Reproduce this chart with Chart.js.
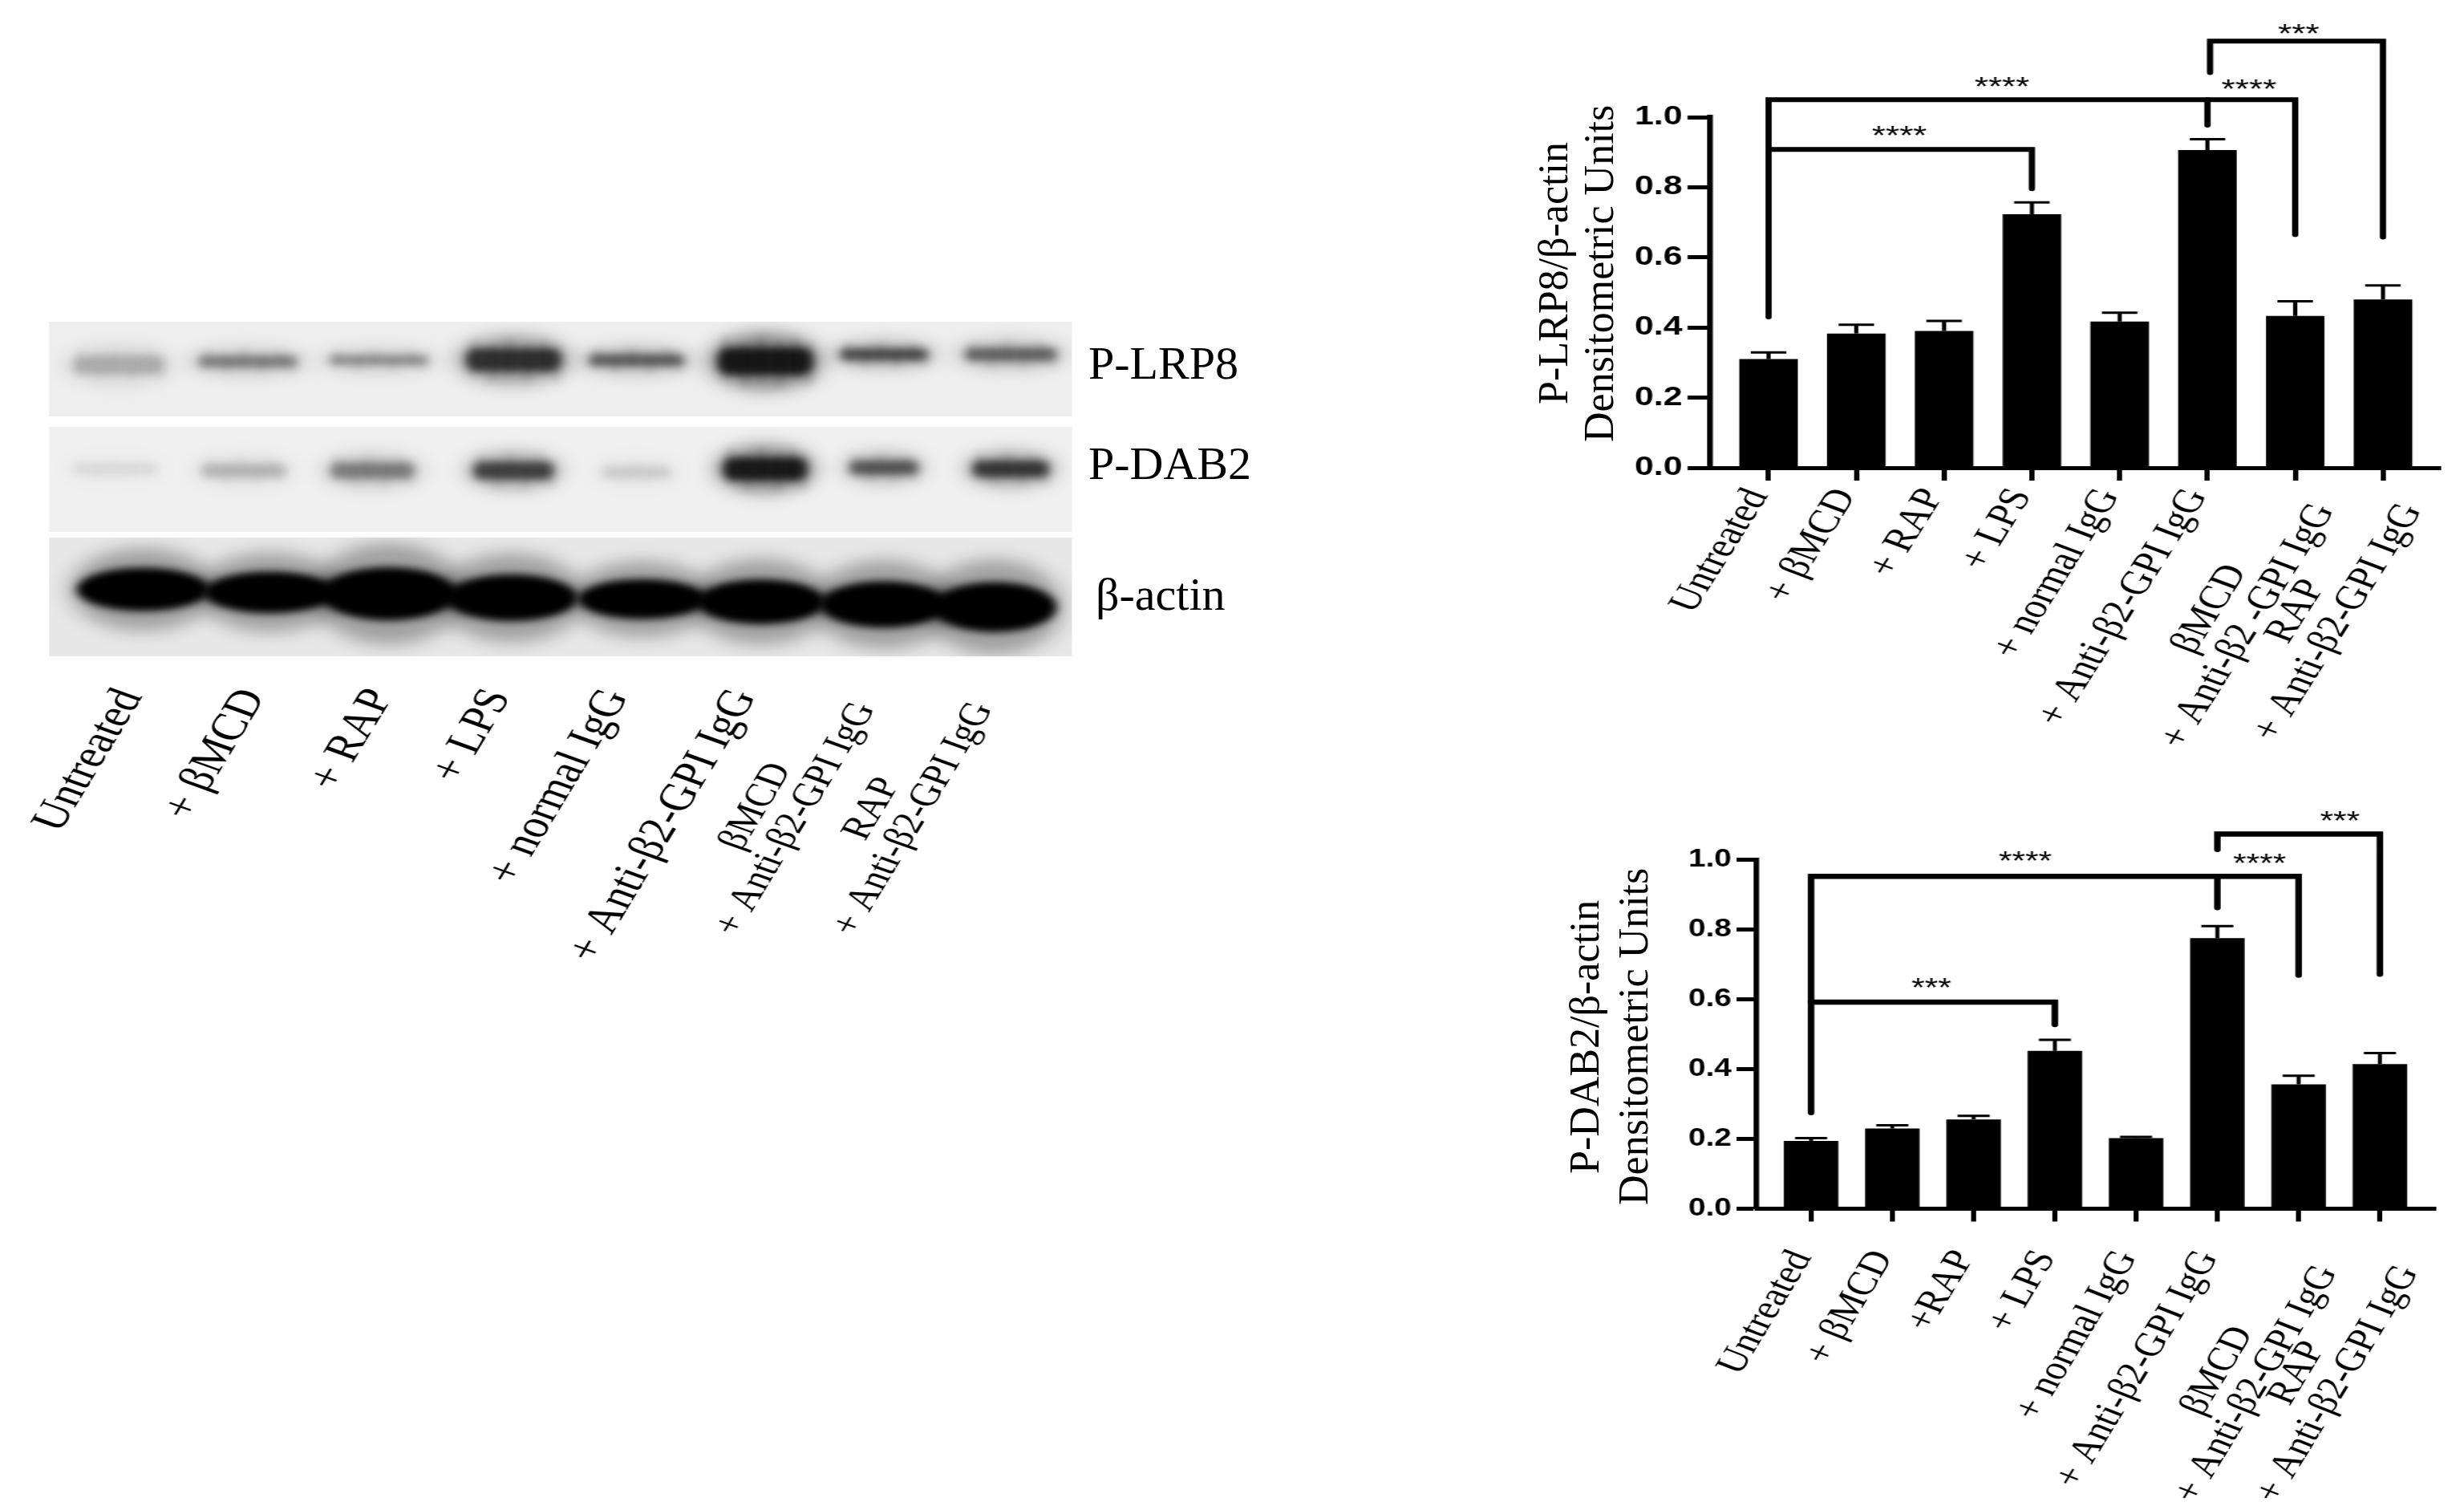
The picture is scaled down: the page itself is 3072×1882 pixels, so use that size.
<!DOCTYPE html><html lang="en">
<head>
    <meta charset="UTF-8">
    <title>P-LRP8 and P-DAB2 western blots</title>
    <script src="https://cdn.jsdelivr.net/npm/chart.js"></script>
    <style>
        html, body { margin: 0; padding: 0; background: #fff; }
        body { width: 3072px; height: 1882px; position: relative; overflow: hidden; }
        canvas { position: absolute; transform-origin: 0 0; }
        .lbl { position: absolute; font-family: "Liberation Serif", serif; color: #000; white-space: nowrap; line-height: 1; }
        .ytitle { position: absolute; font-family: "Liberation Serif", serif; font-size: 52px; color: #000; text-align: center;
                  white-space: nowrap; writing-mode: vertical-rl; transform: rotate(180deg); }
    </style>
</head>
<body>
    <canvas id="blotChart"></canvas>
    <canvas id="lrp8Chart"></canvas>
    <canvas id="dab2Chart"></canvas>
    <div class="lbl" style="left:1357px;top:424px;font-size:58px">P-LRP8</div>
    <div class="lbl" style="left:1357px;top:549px;font-size:58px">P-DAB2</div>
    <div class="lbl" style="left:1366px;top:712px;font-size:58px">β-actin</div>
    <div class="ytitle" style="left:1908px;top:111px;height:460px;line-height:57px">P-LRP8/β-actin<br>Densitometric Units</div>
    <div class="ytitle" style="left:1945px;top:1062px;height:460px;line-height:61px">P-DAB2/β-actin<br>Densitometric Units</div>
<script>
    const nb = n => "\u00a0".repeat(n);

    // bar values
    const lrp8Values = [0.31, 0.383, 0.39, 0.723, 0.417, 0.906, 0.433, 0.48];
    const lrp8Upper  = [0.329, 0.408, 0.419, 0.757, 0.4425, 0.937, 0.475, 0.52];
    const dab2Values = [0.1945, 0.23, 0.256, 0.4525, 0.2025, 0.7755, 0.3565, 0.4146];
    const dab2Upper  = [0.2025, 0.2394, 0.266, 0.484, 0.206, 0.81, 0.381, 0.446];

    const yTicks = [0, 0.2, 0.4, 0.6, 0.8, 1.0];

    const lrp8Labels = ["Untreated", "+ βMCD", "+ RAP", "+ LPS", "+ normal IgG", "+ Anti-β2-GPI IgG",
        ["βMCD" + nb(10), "+ Anti-β2 -GPI IgG"], ["RAP" + nb(12), "+ Anti-β2-GPI IgG"]];
    const dab2Labels = ["Untreated", "+ βMCD", "+RAP", "+ LPS", "+ normal IgG", "+ Anti-β2-GPI IgG",
        ["βMCD" + nb(10), "+ Anti-β2-GPI IgG"], ["RAP" + nb(12), "+ Anti-β2-GPI IgG"]];
    const blotLabels = lrp8Labels.map(l => Array.isArray(l) ? [l[0], "+ Anti-β2-GPI IgG"] : l);

    // significance brackets: [from bar, to bar, level, left leg end, right leg end]
    const lrp8Brackets = [[0, 3, 0.908, 0.908, 0.796], [0, 6, 1.05, 0.43, 0.665], [5, 5, 1.05, 1.05, 0.977], [5.03, 7, 1.217, 1.127, 0.658]];
    const dab2Brackets = [[0, 3, 0.592, 0.592, 0.528], [0, 6, 0.953, 0.2755, 0.669], [5, 5, 0.953, 0.953, 0.863], [5, 7, 1.074, 1.03, 0.672]];
    // stars: [text, bar position, level]
    const lrp8Stars = [["****", 1.49, 0.957], ["****", 2.66, 1.098], ["****", 5.475, 1.089], ["***", 6.04, 1.248]];
    const dab2Stars = [["***", 1.48, 0.6435], ["****", 2.635, 1.006], ["****", 5.52, 1.0], ["***", 6.51, 1.122]];

    // blot: lane position along the membrane (%), band centre height (%), band size and darkness
    const blotTickPos = [8.0, 20.0, 32.5, 44.0, 55.5, 68.0, 76.0, 87.5];
    const lrp8LaneX = [6.8, 19.4, 32.2, 45.4, 57.4, 70, 81.6, 94];
    const lrp8LaneY = [12.9, 11.9, 11.5, 11.4, 11.5, 11.8, 9.8, 9.8];
    const lrp8BandW = [9.6, 10.4, 10.4, 10, 10, 10, 9.2, 9.6];
    const lrp8BandH = [7, 4.4, 3.8, 8.4, 4.4, 10, 4.4, 4.8];
    const lrp8Dark  = [0.22, 0.42, 0.36, 0.82, 0.58, 1, 0.68, 0.55];
    const dab2LaneX = [6.4, 19, 31.6, 45.4, 57.4, 70, 81.6, 94];
    const dab2LaneY = [44, 44.5, 44.5, 44.5, 45, 44, 43.6, 44];
    const dab2BandW = [8.8, 8.8, 8.8, 8.4, 7.2, 8.8, 7.2, 8];
    const dab2BandH = [4.4, 5, 6, 6.4, 4.4, 8.4, 5.2, 6];
    const dab2Dark  = [0.07, 0.2, 0.42, 0.72, 0.12, 0.98, 0.62, 0.78];
    const actinLaneX = [9.2, 21.6, 33.2, 45.2, 58, 69.6, 81.6, 92.4];
    const actinLaneY = [80, 80.9, 81.3, 82.5, 82.9, 83.7, 84.5, 85.3];
    const actinBandW = [13, 13, 13.4, 13, 12.6, 12.6, 12.6, 12.2];
    const actinBandH = [13, 12.5, 16, 14, 12, 13.5, 14, 15];
    const actinDark  = [1, 1, 1, 1, 1, 1, 1, 1];
    const panelTop = [0, 31.4, 64.5];
    const panelBottom = [28.3, 62.8, 100];
    const panelShade = ["#eeeeee", "#eff0ef", "#e7e7e7"];
    const streakAt = [-0.38, -0.2, -0.04, 0.14, 0.3, 0.42];

    function place(canvas, left, top, width, height, stretch) {
        canvas.width = width;
        canvas.height = height;
        canvas.style.left = left + "px";
        canvas.style.top = top + "px";
        canvas.style.transform = "scaleX(" + stretch + ")";
    }

    // rotated labels would otherwise push the plot area in from the sides
    const noSidePadding = s => { s.paddingLeft = 0; s.paddingRight = 0; };

    const sigPlugin = {
        id: "sig",
        afterDraw(chart, args, opts) {
            const ctx = chart.ctx, xs = chart.scales.x, ys = chart.scales.y;
            ctx.save();
            ctx.fillStyle = ctx.strokeStyle = "#000";
            // error bars, upper side only
            opts.upper.forEach((u, i) => {
                const x = xs.getPixelForValue(i), top = ys.getPixelForValue(u), base = ys.getPixelForValue(opts.values[i]);
                ctx.lineWidth = 4;
                ctx.beginPath(); ctx.moveTo(x, base); ctx.lineTo(x, top); ctx.stroke();
                ctx.lineWidth = 3;
                ctx.beginPath(); ctx.moveTo(x - opts.cap, top); ctx.lineTo(x + opts.cap, top); ctx.stroke();
            });
            ctx.lineWidth = opts.bracketWidth;
            ctx.lineJoin = "miter";
            ctx.lineCap = "round";
            opts.brackets.forEach(([from, to, level, legA, legB]) => {
                ctx.beginPath();
                ctx.moveTo(xs.getPixelForValue(from), ys.getPixelForValue(legA));
                ctx.lineTo(xs.getPixelForValue(from), ys.getPixelForValue(level));
                ctx.lineTo(xs.getPixelForValue(to), ys.getPixelForValue(level));
                ctx.lineTo(xs.getPixelForValue(to), ys.getPixelForValue(legB));
                ctx.stroke();
            });
            ctx.font = "34px 'Liberation Sans'";
            ctx.textAlign = "center";
            ctx.textBaseline = "middle";
            opts.stars.forEach(([text, pos, level]) => {
                ctx.fillText(text, xs.getPixelForValue(pos), ys.getPixelForValue(level) + 6);
            });
            ctx.restore();
        }
    };

    function barChart(id, cfg) {
        const canvas = document.getElementById(id);
        place(canvas, cfg.left, cfg.top, cfg.width, cfg.height, cfg.stretch);
        return new Chart(canvas, {
            type: "bar",
            data: {
                datasets: [{
                    data: cfg.values.map((v, i) => ({ x: i, y: v })),
                    backgroundColor: "#000",
                    barPercentage: cfg.barShare,
                    categoryPercentage: 1
                }]
            },
            options: {
                responsive: false,
                animation: false,
                devicePixelRatio: 1,
                layout: { autoPadding: false, padding: { top: cfg.plotTop, right: cfg.width - cfg.plotRight, left: 0, bottom: 0 } },
                plugins: {
                    legend: { display: false },
                    tooltip: { enabled: false },
                    sig: { values: cfg.values, upper: cfg.upper, brackets: cfg.brackets, stars: cfg.stars, cap: cfg.cap, bracketWidth: cfg.bracketWidth }
                },
                scales: {
                    x: {
                        type: "linear",
                        offset: false,
                        min: cfg.xMin,
                        max: cfg.xMax,
                        afterBuildTicks: s => { s.ticks = cfg.labels.map((l, i) => ({ value: i })); },
                        afterFit: s => { s.height = cfg.height - cfg.plotBottom; noSidePadding(s); },
                        border: { display: true, color: "#000", width: 5 },
                        grid: { offset: false, drawOnChartArea: false, drawTicks: true, tickLength: 16, tickWidth: 5, tickColor: "#000" },
                        ticks: {
                            autoSkip: false,
                            minRotation: 64,
                            maxRotation: 64,
                            padding: cfg.tickPad,
                            labelOffset: cfg.labelShift,
                            color: "#000",
                            font: { family: "'Liberation Serif'", size: 42, lineHeight: 1 },
                            callback: v => cfg.labels[v]
                        }
                    },
                    y: {
                        min: 0,
                        max: 1,
                        afterBuildTicks: s => { s.ticks = yTicks.map(v => ({ value: v })); },
                        afterFit: s => { s.width = cfg.plotLeft; },
                        border: { display: true, color: "#000", width: 5.5 },
                        grid: { drawOnChartArea: false, drawTicks: true, tickLength: cfg.yTickLen, tickWidth: 5, tickColor: "#000" },
                        ticks: {
                            padding: 5,
                            color: "#000",
                            font: { family: "'Liberation Sans'", size: cfg.yFont, weight: "bold" },
                            callback: v => v.toFixed(1)
                        }
                    }
                }
            },
            plugins: [sigPlugin]
        });
    }

    barChart("lrp8Chart", {
        left: 1880, top: 0, width: 917, height: 960, stretch: 1.3,
        plotLeft: 193.8, plotRight: 894.6, plotTop: 146, plotBottom: 583,
        xMin: -0.667, xMax: 7.658, barShare: 0.667, cap: 17, yTickLen: 21.5, yFont: 33, tickPad: 4, labelShift: -10, bracketWidth: 6,
        values: lrp8Values, upper: lrp8Upper, labels: lrp8Labels, brackets: lrp8Brackets, stars: lrp8Stars
    });
    barChart("dab2Chart", {
        left: 1880, top: 960, width: 954, height: 922, stretch: 1.25,
        plotLeft: 248, plotRight: 925.6, plotTop: 111.7, plotBottom: 546.5,
        xMin: -0.671, xMax: 7.69, barShare: 0.671, cap: 16, yTickLen: 20, yFont: 31, tickPad: 30, labelShift: -9, bracketWidth: 6.5,
        values: dab2Values, upper: dab2Upper, labels: dab2Labels, brackets: dab2Brackets, stars: dab2Stars
    });

    // western blot membranes, drawn through the chart's own percent scales
    const blotPlugin = {
        id: "blotBands",
        beforeDatasetsDraw(chart) {
            const ctx = chart.ctx, xs = chart.scales.x, ys = chart.scales.y;
            const left = xs.getPixelForValue(0), right = xs.getPixelForValue(100);
            panelTop.forEach((t, p) => {
                const top = ys.getPixelForValue(t), bottom = ys.getPixelForValue(panelBottom[p]);
                ctx.save();
                ctx.fillStyle = panelShade[p];
                ctx.fillRect(left, top, right - left, bottom - top);
                ctx.beginPath(); ctx.rect(left, top, right - left, bottom - top); ctx.clip();
                chart.getDatasetMeta(p).data.forEach((el, i) => {
                    const b = chart.data.datasets[p].data[i];
                    const w = xs.getPixelForValue(b.w) - left, h = ys.getPixelForValue(b.h) - ys.getPixelForValue(0);
                    ctx.fillStyle = "#000";
                    // faint smear first, then the dense core, then the lane streaks
                    ctx.filter = "blur(10px)";
                    ctx.globalAlpha = b.dark * (p === 2 ? 0.3 : 0.45);
                    ctx.beginPath();
                    ctx.ellipse(el.x, el.y, w * 0.55, h * (p === 2 ? 0.95 : 0.85), 0, 0, Math.PI * 2);
                    ctx.fill();
                    ctx.filter = "blur(5px)";
                    ctx.globalAlpha = p === 2 ? 1 : b.dark * 0.8;
                    ctx.beginPath();
                    if (p === 2) ctx.ellipse(el.x, el.y, w * 0.5, h * 0.5, 0, 0, Math.PI * 2);
                    else ctx.roundRect(el.x - w * 0.46, el.y - h * 0.4, w * 0.92, h * 0.8, h * 0.3);
                    ctx.fill();
                    if (p < 2) {
                        ctx.filter = "blur(5px)";
                        ctx.globalAlpha = b.dark * 0.2;
                        streakAt.forEach((s, k) => {
                            ctx.beginPath();
                            ctx.ellipse(el.x + s * w, el.y + (k % 2 ? 3 : -3), w * 0.05, h * 0.7, 0, 0, Math.PI * 2);
                            ctx.fill();
                        });
                    }
                });
                ctx.restore();
            });
        }
    };

    const bandRow = (xs, ys, ws, hs, ds) => ({
        data: xs.map((x, i) => ({ x: x, y: ys[i], w: ws[i], h: hs[i], dark: ds[i] })),
        pointRadius: 0
    });

    const blotCanvas = document.getElementById("blotChart");
    place(blotCanvas, 0, 380, 1231, 1000, 1.3);
    new Chart(blotCanvas, {
        type: "scatter",
        data: {
            datasets: [
                bandRow(lrp8LaneX, lrp8LaneY, lrp8BandW, lrp8BandH, lrp8Dark),
                bandRow(dab2LaneX, dab2LaneY, dab2BandW, dab2BandH, dab2Dark),
                bandRow(actinLaneX, actinLaneY, actinBandW, actinBandH, actinDark)
            ]
        },
        options: {
            responsive: false,
            animation: false,
            devicePixelRatio: 1,
            layout: { autoPadding: false, padding: { left: 47, right: 203, top: 21, bottom: 0 } },
            plugins: { legend: { display: false }, tooltip: { enabled: false } },
            scales: {
                x: {
                    type: "linear",
                    min: 0,
                    max: 100,
                    afterBuildTicks: s => { s.ticks = blotTickPos.map(v => ({ value: v })); },
                    afterFit: s => { s.height = 562; noSidePadding(s); },
                    border: { display: false },
                    grid: { display: false, drawTicks: false },
                    ticks: {
                        autoSkip: false,
                        minRotation: 65,
                        maxRotation: 65,
                        padding: 34,
                        color: "#000",
                        // the two stacked labels are set smaller in the figure
                        font: c => ({ family: "'Liberation Serif'", size: c.index >= 6 ? 41 : 48, lineHeight: 1 }),
                        callback: v => blotLabels[blotTickPos.indexOf(v)]
                    }
                },
                y: { display: false, reverse: true, min: 0, max: 100 }
            }
        },
        plugins: [blotPlugin]
    });
</script>
</body>
</html>
